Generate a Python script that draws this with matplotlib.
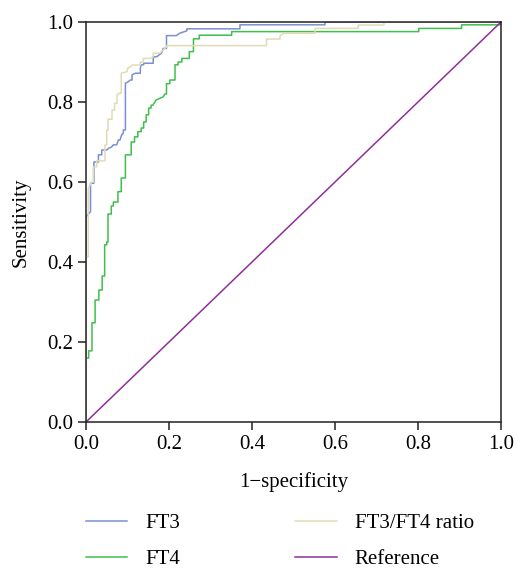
import matplotlib
matplotlib.use("Agg")
import matplotlib.pyplot as plt

plt.rcParams['font.family'] = ['Liberation Serif', 'DejaVu Serif']
plt.rcParams['font.size'] = 15

# === ROC curves (step vertices) ===
ft3_fpr = [0, 0, 0.006, 0.011, 0.011, 0.019, 0.019, 0.030, 0.030, 0.038, 0.038, 0.050, 0.054,
           0.062, 0.066, 0.074, 0.078, 0.082, 0.086, 0.090, 0.090, 0.095, 0.095, 0.101, 0.107,
           0.111, 0.111, 0.119, 0.131, 0.131, 0.133, 0.139, 0.139, 0.162, 0.162, 0.170, 0.182,
           0.186, 0.194, 0.194, 0.218, 0.226, 0.243, 0.243, 0.371, 0.371, 0.576, 0.576, 1.0]
ft3_tpr = [0, 0.513, 0.520, 0.526, 0.597, 0.597, 0.650, 0.650, 0.668, 0.668, 0.680, 0.680, 0.684,
           0.688, 0.693, 0.693, 0.705, 0.705, 0.718, 0.722, 0.730, 0.730, 0.847, 0.850, 0.855,
           0.855, 0.868, 0.872, 0.872, 0.885, 0.893, 0.893, 0.897, 0.897, 0.913, 0.913, 0.922,
           0.934, 0.934, 0.966, 0.966, 0.972, 0.978, 0.983, 0.983, 0.993, 0.993, 1.0, 1.0]

ft4_fpr = [0, 0, 0.0065, 0.0065, 0.0145, 0.0145, 0.022, 0.022, 0.031, 0.031, 0.039, 0.039, 0.045,
           0.045, 0.050, 0.050, 0.053, 0.053, 0.061, 0.061, 0.066, 0.066, 0.077, 0.077, 0.085,
           0.085, 0.095, 0.095, 0.109, 0.109, 0.117, 0.117, 0.125, 0.125, 0.133, 0.133, 0.139,
           0.139, 0.145, 0.145, 0.151, 0.151, 0.157, 0.157, 0.161, 0.169, 0.186, 0.190, 0.194,
           0.194, 0.202, 0.202, 0.2145, 0.2145, 0.222, 0.222, 0.231, 0.231, 0.249, 0.249, 0.259,
           0.259, 0.273, 0.273, 0.351, 0.351, 0.802, 0.802, 0.905, 0.905, 1.0, 1.0]
ft4_tpr = [0, 0.160, 0.160, 0.178, 0.178, 0.248, 0.248, 0.305, 0.305, 0.330, 0.330, 0.365, 0.365,
           0.443, 0.443, 0.450, 0.450, 0.520, 0.520, 0.540, 0.540, 0.550, 0.550, 0.576, 0.576,
           0.610, 0.610, 0.668, 0.668, 0.700, 0.700, 0.713, 0.713, 0.726, 0.726, 0.735, 0.735,
           0.750, 0.750, 0.768, 0.768, 0.785, 0.785, 0.792, 0.792, 0.805, 0.813, 0.820, 0.820,
           0.846, 0.846, 0.855, 0.855, 0.893, 0.893, 0.900, 0.900, 0.909, 0.909, 0.926, 0.926,
           0.958, 0.958, 0.967, 0.967, 0.976, 0.976, 0.984, 0.984, 0.993, 0.993, 1.0]

ratio_fpr = [0, 0, 0.0055, 0.0055, 0.0137, 0.0176, 0.0176, 0.0258, 0.0258, 0.0458, 0.0458, 0.050,
             0.050, 0.053, 0.053, 0.0627, 0.0627, 0.069, 0.069, 0.0747, 0.0747, 0.079, 0.085,
             0.085, 0.0988, 0.101, 0.109, 0.111, 0.131, 0.131, 0.138, 0.138, 0.154, 0.162, 0.162,
             0.178, 0.186, 0.190, 0.194, 0.194, 0.435, 0.435, 0.4675, 0.4675, 0.4755, 0.552,
             0.552, 0.656, 0.656, 0.718, 0.718, 1.0]
ratio_tpr = [0, 0.413, 0.413, 0.584, 0.600, 0.600, 0.638, 0.638, 0.653, 0.653, 0.6925, 0.6925,
             0.730, 0.730, 0.757, 0.757, 0.780, 0.780, 0.797, 0.797, 0.8175, 0.822, 0.822,
             0.872, 0.876, 0.885, 0.889, 0.8925, 0.8925, 0.900, 0.900, 0.909, 0.909, 0.913, 0.922,
             0.922, 0.930, 0.934, 0.938, 0.941, 0.941, 0.9575, 0.9575, 0.966, 0.972, 0.972,
             0.984, 0.984, 0.9925, 0.9925, 1.0, 1.0]

ref_fpr = [0, 1]
ref_tpr = [0, 1]

ticks = [0.0, 0.2, 0.4, 0.6, 0.8, 1.0]

fig = plt.figure(figsize=(5.17, 5.69), dpi=100)
ax = fig.add_axes([0.1663, 0.2583, 0.8027, 0.703])

ax.plot(ft3_fpr, ft3_tpr, color='#7b8fd2', lw=1.1, label='FT3')
ax.plot(ft4_fpr, ft4_tpr, color='#3fbf4c', lw=1.1, label='FT4')
ax.plot(ratio_fpr, ratio_tpr, color='#e0dbb5', lw=1.1, label='FT3/FT4 ratio')
ax.plot(ref_fpr, ref_tpr, color='#8e2f9a', lw=1.1, label='Reference')

ax.set_xlim(0, 1)
ax.set_ylim(0, 1)
ax.set_xticks(ticks)
ax.set_yticks(ticks)
ax.set_xticklabels([f"{t:.1f}" for t in ticks])
ax.set_yticklabels([f"{t:.1f}" for t in ticks])
ax.tick_params(direction='out', length=5.8, width=1.1, color='#222222', pad=3.5)
for s in ax.spines.values():
    s.set_linewidth(1.1)
    s.set_color('#222222')

ax.set_xlabel('1\u2212specificity', labelpad=13)
ax.set_ylabel('Sensitivity', labelpad=12)

handles, labels = ax.get_legend_handles_labels()
fig.legend(handles, labels, ncol=2, loc='upper left', bbox_to_anchor=(0.166, 0.0975),
           frameon=False, borderpad=0, borderaxespad=0, handlelength=2.0,
           handletextpad=0.87, columnspacing=5.5, labelspacing=0.8)

fig.savefig('out.png', dpi=100)
